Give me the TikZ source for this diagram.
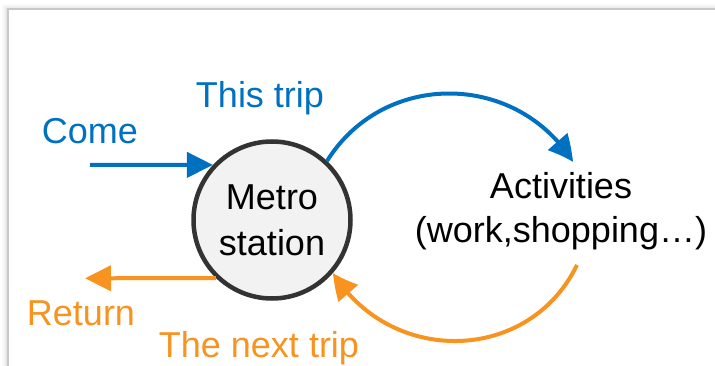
\documentclass[tikz,border=0pt]{standalone}
\usepackage{fontspec}
\setmainfont{Liberation Sans}
\usetikzlibrary{arrows.meta}
\usetikzlibrary{bending}
\definecolor{tripblue}{RGB}{0,112,192}
\definecolor{triporange}{RGB}{247,147,30}
\definecolor{stationfill}{RGB}{242,242,242}
\definecolor{stationline}{RGB}{51,51,51}
\definecolor{framegray}{RGB}{200,200,200}

\begin{document}
\begin{tikzpicture}[
    x=1pt, y=1pt,
    %% ── Node styles ─────────────────────────────────────────────
    station/.style ={circle, draw=stationline, line width=4.5pt, fill=stationfill,
                     minimum size=157pt, inner sep=0pt,
                     align=center, font=\fontsize{36}{46}\selectfont},
    place/.style   ={inner sep=0pt, align=center, font=\fontsize{36}{44}\selectfont},
    bluelbl/.style ={anchor=base, inner sep=0pt, text=tripblue,
                     font=\fontsize{36}{44}\selectfont},
    orglbl/.style  ={anchor=base, inner sep=0pt, text=triporange,
                     font=\fontsize{36}{44}\selectfont},
    bluearr/.style ={-{Triangle[length=26pt, width=25pt, bend]}, line width=4pt, draw=tripblue},
    orgarr/.style  ={-{Triangle[length=26pt, width=25pt, bend]}, line width=4pt, draw=triporange}
]
    \useasboundingbox (0,0) rectangle (715,-366);

    %% ── Frame ──────────────────────────────────────────────────
    \foreach \d/\o in {1/0.10, 2/0.07, 3/0.05, 4/0.03, 5/0.02}
        \draw[black, opacity=\o, line width=1pt]
            (7.5-\d,-366) -- (7.5-\d,-9.5+\d) -- (715,-9.5+\d);
    \draw[framegray, line width=2pt] (7.5,-366) -- (7.5,-9.5) -- (715,-9.5);

    %% ── Nodes ──────────────────────────────────────────────────
    \node[station] (metro) at (272,-220)   {Metro\\station};
    \node[place]   (act)   at (561,-210.9) {Activities\\(work,shopping…)};

    \node[bluelbl] (thistrip)  at (260,-107.3) {This trip};
    \node[bluelbl] (comelbl)   at (90,-144)    {Come};
    \node[orglbl]  (returnlbl) at (81,-325)    {Return};
    \node[orglbl]  (nextlbl)   at (259,-357.5) {The next trip};

    %% ── Free ends ───────────────────────────────────────────────
    \coordinate (comefrom) at (90,-164.8);
    \coordinate (tripin)   at (573,-162);
    \coordinate (nextfrom) at (577,-265);
    \coordinate (retto)    at (85,-278.3);

    %% ── Arrows ──────────────────────────────────────────────────
    \draw[bluearr] (comefrom) -- (metro.137);
    \draw[bluearr] (metro.47) to[out=58, in=122, looseness=1.11] (tripin);
    \draw[orgarr]  (nextfrom) to[out=-116, in=-58, looseness=1.15] (metro.-41);
    \draw[orgarr]  (metro.226) -- (retto);

\end{tikzpicture}
\end{document}
